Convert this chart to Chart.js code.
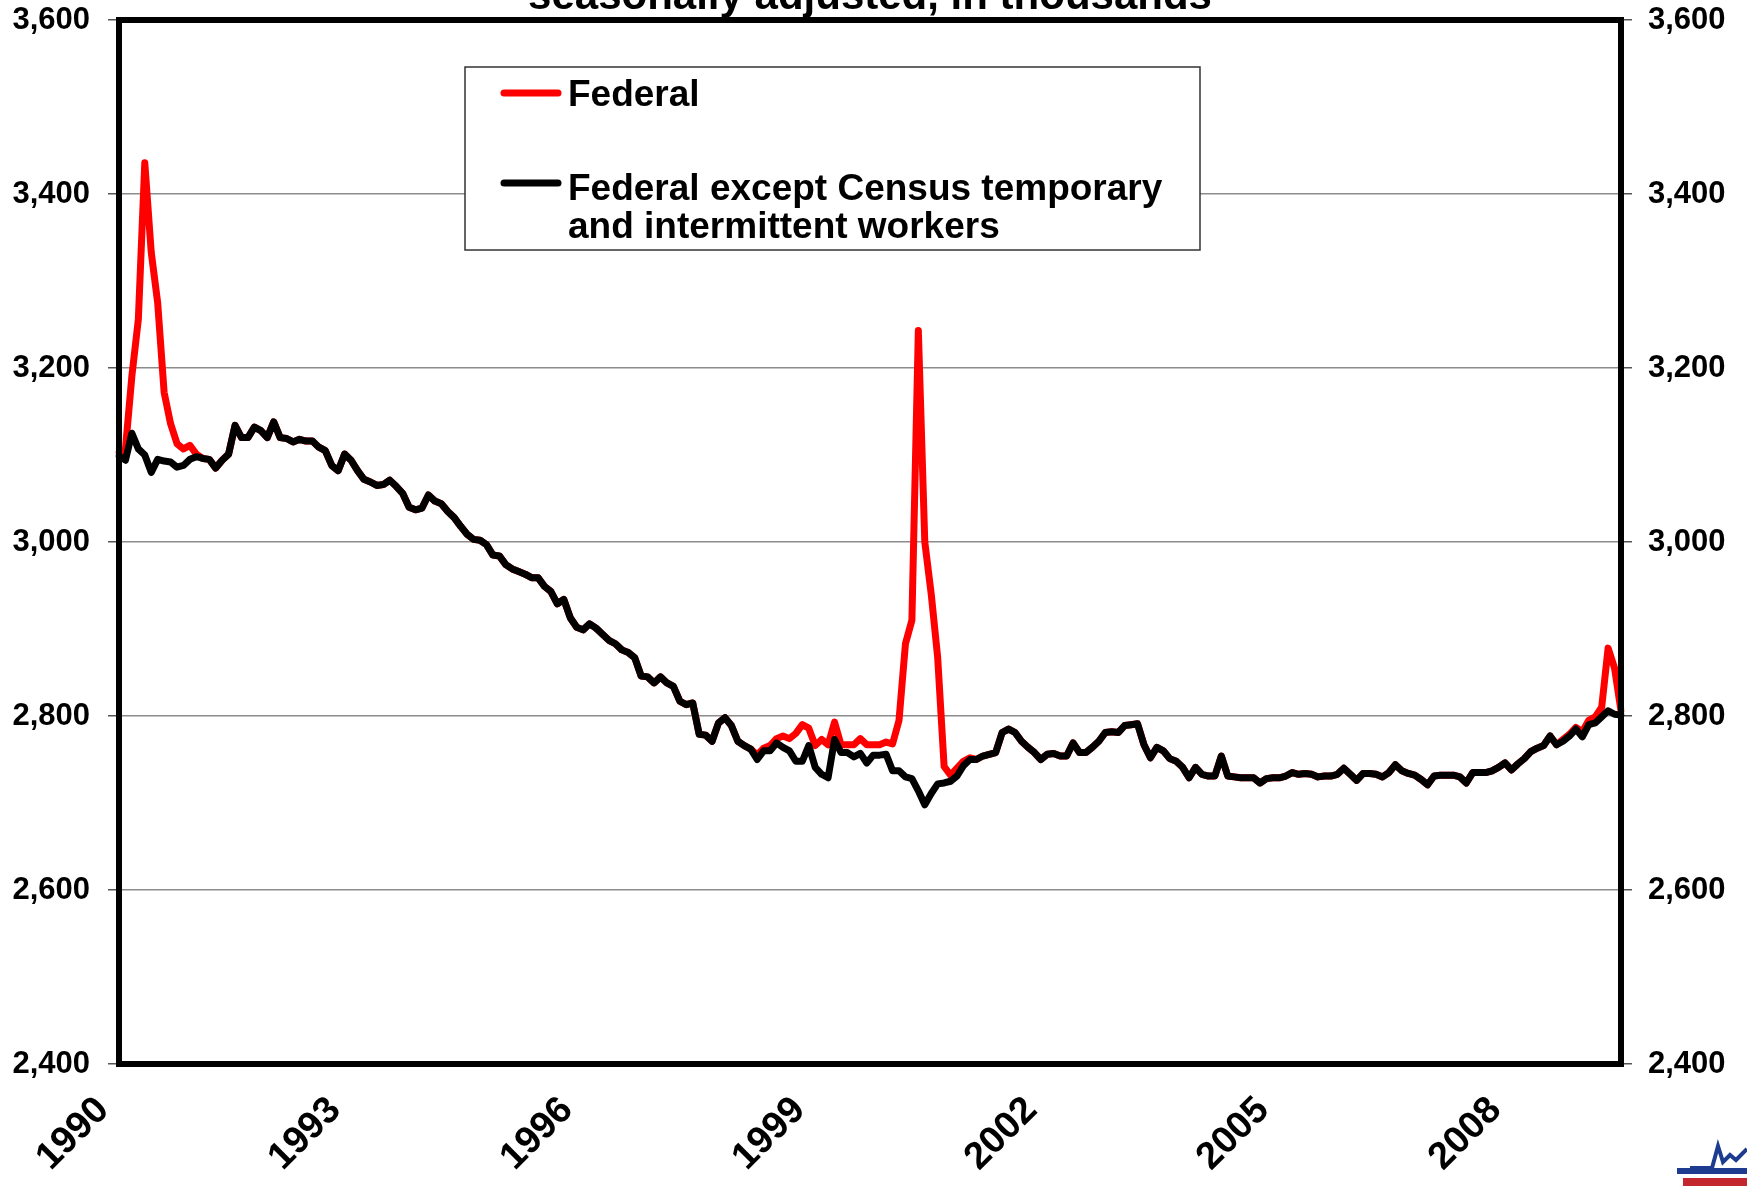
<!DOCTYPE html>
<html>
<head>
<meta charset="utf-8">
<title>Federal employment</title>
<script src="https://cdn.jsdelivr.net/npm/chart.js@4.4.0/dist/chart.umd.min.js"></script>
<style>
  html, body { margin: 0; padding: 0; background: #fff; }
  #wrap { position: relative; width: 1747px; height: 1186px; }
</style>
</head>
<body>
<div id="wrap"><canvas id="fedChart" width="1747" height="1186"></canvas></div>
<script>
// Federal employment, monthly Jan 1990 - Jun 2009, seasonally adjusted, thousands
var startYear = 1990;
var monthCount = 234;
var yearTicks = ['1990', '1993', '1996', '1999', '2002', '2005', '2008'];
var yTicks = [2400, 2600, 2800, 3000, 3200, 3400, 3600];
var titleText = 'seasonally adjusted, in thousands';
var seriesNames = ['Federal', 'Federal except Census temporary and intermittent workers'];
var legendLines = [['Federal'], ['Federal except Census temporary', 'and intermittent workers']];

var federal = [
  3103, 3107, 3191, 3256, 3436, 3333, 3275, 3172, 3136, 3113, 3107, 3111,
  3101, 3096, 3095, 3085, 3094, 3101, 3134, 3120, 3120, 3132, 3128, 3120,
  3138, 3120, 3119, 3115, 3118, 3116, 3116, 3109, 3105, 3088, 3082, 3101,
  3094, 3082, 3072, 3069, 3065, 3066, 3071, 3064, 3056, 3040, 3037, 3039,
  3054, 3047, 3044, 3035, 3028, 3018, 3009, 3003, 3002, 2997, 2985, 2984,
  2974, 2969, 2966, 2963, 2959, 2959, 2949, 2943, 2929, 2934, 2913, 2902,
  2899, 2906, 2901, 2894, 2887, 2883, 2876, 2873, 2867, 2846, 2845, 2838,
  2845, 2838, 2834, 2817, 2813, 2815, 2779, 2778, 2771, 2792, 2798, 2789,
  2771, 2766, 2762, 2755, 2763, 2766, 2774, 2777, 2774, 2780, 2790, 2786,
  2766, 2773, 2767, 2793, 2767, 2767, 2767, 2774, 2767, 2767, 2767, 2770,
  2768, 2795, 2883, 2910, 3243, 3000, 2940, 2867, 2742, 2732, 2740, 2748,
  2752, 2750, 2754, 2756, 2758, 2781, 2785, 2781, 2771, 2764, 2758, 2750,
  2756, 2757, 2754, 2754, 2769, 2758, 2758, 2764, 2771, 2781, 2782, 2781,
  2789, 2790, 2791, 2767, 2752, 2764, 2760, 2751, 2748, 2741, 2729, 2741,
  2733, 2731, 2731, 2754, 2731, 2730, 2729, 2729, 2729, 2723, 2728, 2729,
  2729, 2731, 2735, 2733, 2734, 2733, 2730, 2731, 2731, 2733, 2740, 2733,
  2726, 2734, 2734, 2733, 2730, 2735, 2744, 2737, 2734, 2732, 2727, 2721,
  2731, 2732, 2732, 2732, 2730, 2723, 2735, 2735, 2735, 2737, 2741, 2746,
  2738, 2745, 2751, 2759, 2763, 2766, 2777, 2767, 2773, 2779, 2787, 2782,
  2795, 2799, 2810, 2878, 2855, 2806
];

var federalExCensus = [
  3099, 3094, 3125, 3107, 3100, 3080, 3095, 3093, 3092, 3086, 3088, 3095,
  3098, 3096, 3095, 3085, 3094, 3101, 3134, 3120, 3120, 3132, 3128, 3120,
  3138, 3120, 3119, 3115, 3118, 3116, 3116, 3109, 3105, 3088, 3082, 3101,
  3094, 3082, 3072, 3069, 3065, 3066, 3071, 3064, 3056, 3040, 3037, 3039,
  3054, 3047, 3044, 3035, 3028, 3018, 3009, 3003, 3002, 2997, 2985, 2984,
  2974, 2969, 2966, 2963, 2959, 2959, 2949, 2943, 2929, 2934, 2913, 2902,
  2899, 2906, 2901, 2894, 2887, 2883, 2876, 2873, 2867, 2846, 2845, 2838,
  2845, 2838, 2834, 2817, 2813, 2815, 2779, 2778, 2771, 2792, 2798, 2789,
  2771, 2766, 2762, 2750, 2760, 2760, 2769, 2764, 2760, 2748, 2748, 2766,
  2741, 2733, 2729, 2773, 2758, 2758, 2753, 2757, 2746, 2755, 2755, 2756,
  2737, 2737, 2730, 2728, 2714, 2698, 2711, 2722, 2723, 2725, 2731, 2743,
  2750, 2750, 2754, 2756, 2758, 2781, 2785, 2781, 2771, 2764, 2758, 2750,
  2756, 2757, 2754, 2754, 2769, 2758, 2758, 2764, 2771, 2781, 2782, 2781,
  2789, 2790, 2791, 2767, 2752, 2764, 2760, 2751, 2748, 2741, 2729, 2741,
  2733, 2731, 2731, 2754, 2731, 2730, 2729, 2729, 2729, 2723, 2728, 2729,
  2729, 2731, 2735, 2733, 2734, 2733, 2730, 2731, 2731, 2733, 2740, 2733,
  2726, 2734, 2734, 2733, 2730, 2735, 2744, 2737, 2734, 2732, 2727, 2721,
  2731, 2732, 2732, 2732, 2730, 2723, 2735, 2735, 2735, 2737, 2741, 2746,
  2738, 2745, 2751, 2759, 2763, 2766, 2777, 2767, 2771, 2777, 2785, 2776,
  2790, 2792, 2799, 2806, 2802, 2801
];

// month categories "1990-01" ... "2009-06"
var months = [];
for (var i = 0; i < monthCount; i++) {
  var yr = startYear + Math.floor(i / 12);
  var mo = (i % 12) + 1;
  months.push(yr + '-' + (mo < 10 ? '0' + mo : mo));
}

var fontFamily = "'Liberation Sans', Arial, sans-serif";
Chart.defaults.font.family = fontFamily;
Chart.defaults.font.weight = 'bold';
Chart.defaults.color = '#000';

function fmtThousands(v) {
  return Number(v).toLocaleString('en-US');
}

// frame, legend box, cut-off title, logo
var decorations = {
  id: 'decorations',
  afterDatasetsDraw: function (chart) {
    var ctx = chart.ctx, a = chart.chartArea;
    ctx.save();
    ctx.strokeStyle = '#000';
    ctx.lineWidth = 6;
    ctx.strokeRect(a.left, a.top, a.right - a.left, a.bottom - a.top);
    ctx.restore();
  },
  afterDraw: function (chart) {
    var ctx = chart.ctx, a = chart.chartArea;
    ctx.save();

    // title (only its lower part fits on the canvas)
    ctx.fillStyle = '#000';
    ctx.font = 'bold 42px ' + fontFamily;
    ctx.textAlign = 'center';
    ctx.textBaseline = 'alphabetic';
    ctx.fillText(titleText, (a.left + a.right) / 2, 9);

    // legend
    ctx.fillStyle = '#fff';
    ctx.fillRect(465, 67, 735, 183);
    ctx.strokeStyle = '#333';
    ctx.lineWidth = 1.5;
    ctx.strokeRect(465, 67, 735, 183);

    var sampleY = [93, 183];
    var baseY = [106, 200];
    ctx.font = 'bold 37px ' + fontFamily;
    ctx.textAlign = 'left';
    chart.data.datasets.forEach(function (ds, k) {
      ctx.strokeStyle = ds.borderColor;
      ctx.lineWidth = 7;
      ctx.lineCap = 'round';
      ctx.beginPath();
      ctx.moveTo(504, sampleY[k]);
      ctx.lineTo(558, sampleY[k]);
      ctx.stroke();
      ctx.fillStyle = '#000';
      legendLines[k].forEach(function (t, j) {
        ctx.fillText(t, 568, baseY[k] + j * 38);
      });
    });

    // small logo in the corner
    ctx.lineCap = 'butt';
    ctx.fillStyle = '#1d3c8f';
    ctx.fillRect(1677, 1168, 70, 6);
    ctx.fillStyle = '#c4262e';
    ctx.fillRect(1683, 1178, 64, 8);
    ctx.strokeStyle = '#1d3c8f';
    ctx.lineWidth = 4;
    ctx.beginPath();
    ctx.moveTo(1690, 1168);
    ctx.lineTo(1712, 1168);
    ctx.lineTo(1718, 1146);
    ctx.lineTo(1723, 1162);
    ctx.lineTo(1730, 1155);
    ctx.lineTo(1736, 1160);
    ctx.lineTo(1747, 1149);
    ctx.stroke();

    ctx.restore();
  }
};

var ctx = document.getElementById('fedChart').getContext('2d');
var fedChart = new Chart(ctx, {
  type: 'line',
  data: {
    labels: months,
    datasets: [{
      label: seriesNames[0],
      data: federal,
      borderColor: '#ff0000',
      borderWidth: 7,
      pointRadius: 0,
      tension: 0,
      borderJoinStyle: 'round',
      borderCapStyle: 'round',
      yAxisID: 'y',
      order: 1
    }, {
      label: seriesNames[1],
      data: federalExCensus,
      borderColor: '#000000',
      borderWidth: 7,
      pointRadius: 0,
      tension: 0,
      borderJoinStyle: 'round',
      borderCapStyle: 'round',
      yAxisID: 'y',
      order: 0
    }]
  },
  options: {
    responsive: false,
    animation: false,
    devicePixelRatio: 1,
    layout: { padding: { top: 20, left: 0, right: 0, bottom: 0 } },
    plugins: {
      legend: { display: false },
      title: { display: false },
      tooltip: { enabled: false }
    },
    scales: {
      x: {
        type: 'category',
        offset: false,
        grid: { display: false, drawTicks: false },
        border: { display: false },
        ticks: {
          autoSkip: false,
          maxRotation: 45,
          minRotation: 45,
          padding: 24,
          labelOffset: -16,
          color: '#000',
          font: { size: 38, weight: 'bold' },
          callback: function (value, index) {
            var lab = months[index];
            if (lab.slice(5) === '01' && yearTicks.indexOf(lab.slice(0, 4)) >= 0) {
              return lab.slice(0, 4);
            }
            return null;
          }
        },
        afterFit: function (s) {
          s.height = 122;
          s.paddingLeft = 0;
          s.paddingRight = 0;
        }
      },
      y: {
        position: 'left',
        min: yTicks[0],
        max: yTicks[yTicks.length - 1],
        grid: { color: '#8c8c8c', lineWidth: 1.5, tickLength: 11, tickColor: '#555' },
        border: { display: false },
        ticks: {
          stepSize: 200,
          padding: 18,
          color: '#000',
          font: { size: 31, weight: 'bold' },
          callback: fmtThousands
        },
        afterFit: function (s) {
          s.width = 119;
          s.paddingTop = 0;
          s.paddingBottom = 0;
        }
      },
      y2: {
        position: 'right',
        min: yTicks[0],
        max: yTicks[yTicks.length - 1],
        grid: { drawOnChartArea: false, tickLength: 11, tickColor: '#555', lineWidth: 1.5 },
        border: { display: false },
        ticks: {
          stepSize: 200,
          padding: 16,
          color: '#000',
          font: { size: 31, weight: 'bold' },
          callback: fmtThousands
        },
        afterFit: function (s) {
          s.width = 126;
          s.paddingTop = 0;
          s.paddingBottom = 0;
        }
      }
    }
  },
  plugins: [decorations]
});
</script>
</body>
</html>
